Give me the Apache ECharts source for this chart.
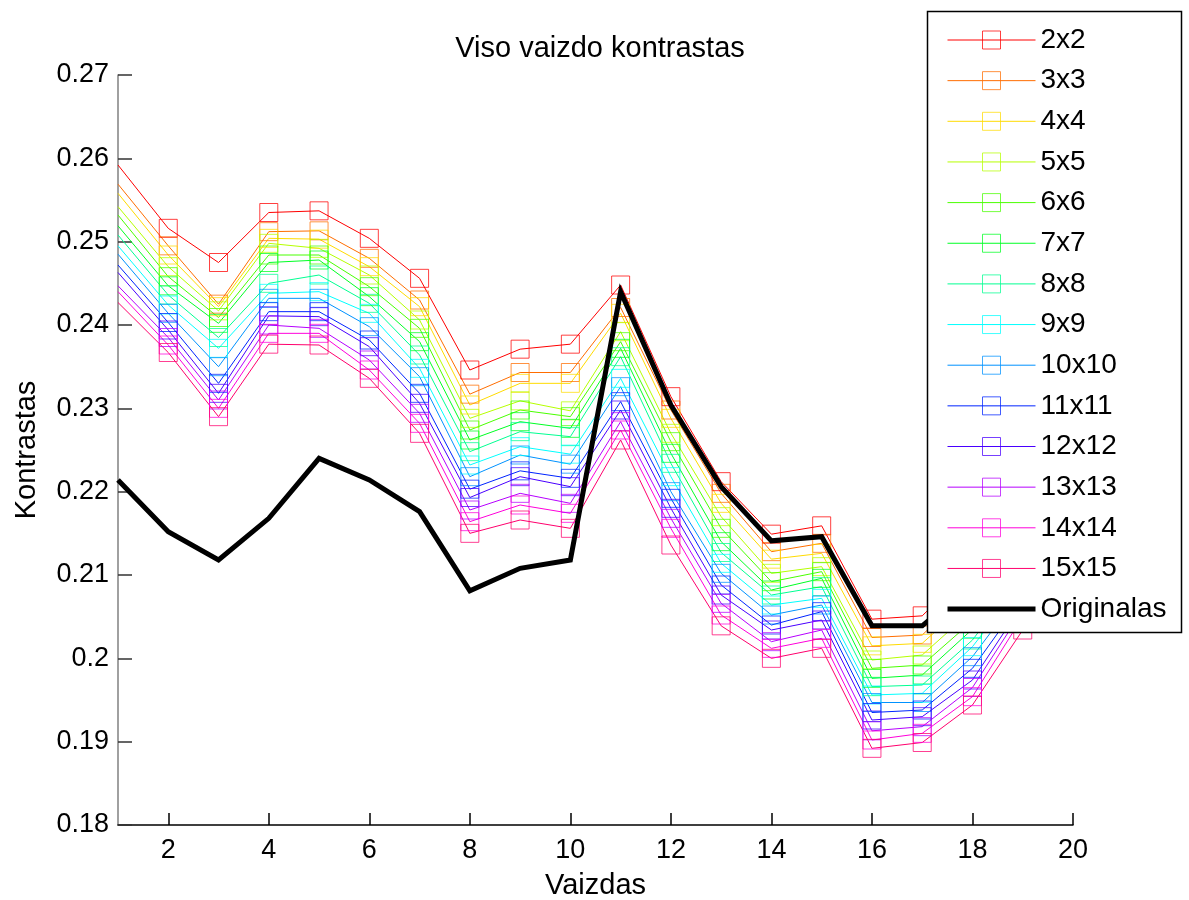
<!DOCTYPE html>
<html>
<head>
<meta charset="utf-8">
<script src="https://cdn.jsdelivr.net/npm/echarts@6/dist/echarts.min.js"></script>
<style>
  html, body { margin: 0; padding: 0; background: #fff; }
  #chart { width: 1189px; height: 900px; }
</style>
</head>
<body>
<div id="chart"></div>
<script>
// Image index along the horizontal axis
const xValues = [1, 2, 3, 4, 5, 6, 7, 8, 9, 10, 11, 12, 13, 14, 15, 16, 17, 18, 19, 20];
const xTickValues = [2, 4, 6, 8, 10, 12, 14, 16, 18, 20];

// Contrast after filtering with each window size
const names = ['2x2', '3x3', '4x4', '5x5', '6x6', '7x7', '8x8', '9x9', '10x10', '11x11', '12x12', '13x13', '14x14', '15x15'];
const colors = ['#FF0000', '#FF6D00', '#FFDB00', '#B6FF00', '#49FF00', '#00FF24', '#00FF92',
                '#00FFFF', '#0092FF', '#0024FF', '#4900FF', '#B600FF', '#FF00DB', '#FF006D'];

const w2  = [0.2592, 0.2516, 0.2475, 0.2535, 0.2537, 0.2504, 0.2456, 0.2346, 0.2371, 0.2377, 0.2448, 0.2314, 0.2212, 0.2149, 0.2159, 0.2047, 0.2051, 0.2110, 0.2190, 0.2230];
const w3  = [0.2569, 0.2495, 0.2425, 0.2512, 0.2513, 0.2480, 0.2430, 0.2317, 0.2343, 0.2343, 0.2421, 0.2298, 0.2198, 0.2128, 0.2138, 0.2025, 0.2028, 0.2085, 0.2165, 0.2205];
const w4  = [0.2558, 0.2484, 0.2422, 0.2504, 0.2503, 0.2470, 0.2422, 0.2304, 0.2330, 0.2330, 0.2414, 0.2288, 0.2186, 0.2119, 0.2126, 0.2015, 0.2018, 0.2072, 0.2150, 0.2190];
const w5  = [0.2542, 0.2470, 0.2417, 0.2498, 0.2492, 0.2460, 0.2406, 0.2288, 0.2309, 0.2297, 0.2392, 0.2270, 0.2170, 0.2102, 0.2110, 0.1998, 0.2004, 0.2058, 0.2136, 0.2175];
const w6  = [0.2532, 0.2458, 0.2409, 0.2484, 0.2484, 0.2446, 0.2396, 0.2274, 0.2298, 0.2290, 0.2380, 0.2260, 0.2156, 0.2092, 0.2104, 0.1988, 0.1992, 0.2045, 0.2124, 0.2162];
const w7  = [0.2519, 0.2447, 0.2402, 0.2475, 0.2478, 0.2434, 0.2380, 0.2262, 0.2284, 0.2276, 0.2372, 0.2246, 0.2140, 0.2082, 0.2096, 0.1976, 0.1980, 0.2035, 0.2112, 0.2150];
const w8  = [0.2508, 0.2436, 0.2385, 0.2450, 0.2460, 0.2426, 0.2364, 0.2248, 0.2272, 0.2266, 0.2362, 0.2234, 0.2127, 0.2076, 0.2086, 0.1966, 0.1968, 0.2022, 0.2102, 0.2138];
const w9  = [0.2495, 0.2424, 0.2372, 0.2438, 0.2440, 0.2414, 0.2348, 0.2232, 0.2254, 0.2245, 0.2336, 0.2218, 0.2114, 0.2064, 0.2072, 0.1956, 0.1958, 0.2014, 0.2092, 0.2128];
const w10 = [0.2485, 0.2414, 0.2350, 0.2432, 0.2432, 0.2398, 0.2338, 0.2218, 0.2244, 0.2233, 0.2326, 0.2200, 0.2102, 0.2052, 0.2064, 0.1947, 0.1947, 0.2002, 0.2082, 0.2118];
const w11 = [0.2472, 0.2403, 0.2330, 0.2416, 0.2416, 0.2382, 0.2318, 0.2203, 0.2225, 0.2216, 0.2308, 0.2192, 0.2088, 0.2040, 0.2056, 0.1935, 0.1938, 0.1988, 0.2072, 0.2108];
const w12 = [0.2463, 0.2394, 0.2318, 0.2411, 0.2410, 0.2374, 0.2306, 0.2193, 0.2218, 0.2206, 0.2298, 0.2180, 0.2076, 0.2034, 0.2046, 0.1926, 0.1930, 0.1974, 0.2065, 0.2100];
const w13 = [0.2447, 0.2385, 0.2310, 0.2400, 0.2396, 0.2358, 0.2294, 0.2178, 0.2198, 0.2186, 0.2284, 0.2168, 0.2066, 0.2020, 0.2034, 0.1913, 0.1918, 0.1965, 0.2058, 0.2094];
const w14 = [0.2440, 0.2376, 0.2300, 0.2390, 0.2390, 0.2346, 0.2282, 0.2164, 0.2184, 0.2174, 0.2274, 0.2156, 0.2052, 0.2012, 0.2024, 0.1902, 0.1910, 0.1954, 0.2050, 0.2088];
const w15 = [0.2427, 0.2367, 0.2290, 0.2377, 0.2376, 0.2336, 0.2270, 0.2150, 0.2166, 0.2156, 0.2262, 0.2136, 0.2039, 0.2000, 0.2012, 0.1892, 0.1899, 0.1944, 0.2034, 0.2080];

// Contrast of the unfiltered images
const originalName = 'Originalas';
const original = [0.2214, 0.2152, 0.2118, 0.2168, 0.2240, 0.2214, 0.2176, 0.2081, 0.2108, 0.2118, 0.2440, 0.2304, 0.2206, 0.2141, 0.2146, 0.2039, 0.2039, 0.2090, 0.2150, 0.2200];

const windowSeries = [w2, w3, w4, w5, w6, w7, w8, w9, w10, w11, w12, w13, w14, w15];

const FONT = '"Liberation Sans", Arial, sans-serif';

function hexToRgba(hex, a) {
  const n = parseInt(hex.slice(1), 16);
  return 'rgba(' + ((n >> 16) & 255) + ',' + ((n >> 8) & 255) + ',' + (n & 255) + ',' + a + ')';
}

const series = windowSeries.map((vals, i) => ({
  name: names[i],
  type: 'line',
  data: xValues.map((x, j) => [x, vals[j]]),
  symbol: 'rect',
  // the first point sits on the axis edge and carries no marker
  symbolSize: (v, p) => (p.dataIndex === 0 ? 0 : 18),
  lineStyle: { color: colors[i], width: 1 },
  itemStyle: { color: 'rgba(0,0,0,0)', borderColor: hexToRgba(colors[i], 0.75), borderWidth: 1 },
  emphasis: { disabled: true },
  animation: false,
  z: 2
}));

series.push({
  name: originalName,
  type: 'line',
  data: xValues.map((x, j) => [x, original[j]]),
  symbol: 'none',
  lineStyle: { color: '#000', width: 5, join: 'miter' },
  itemStyle: { color: '#000' },
  emphasis: { disabled: true },
  animation: false,
  z: 3
});

const legendData = names.map(n => ({ name: n }));
legendData.push({ name: originalName, itemStyle: { opacity: 0 } });

const chart = echarts.init(document.getElementById('chart'), null, { renderer: 'canvas' });
chart.setOption({
  backgroundColor: '#fff',
  animation: false,
  title: {
    text: 'Viso vaizdo kontrastas',
    left: 595,
    textAlign: 'center',
    top: 29,
    textStyle: { fontFamily: FONT, fontSize: 29, fontWeight: 'normal', color: '#000' }
  },
  grid: { left: 118, right: 116, top: 75, bottom: 75, containLabel: false, outerBoundsMode: 'none' },
  xAxis: {
    type: 'value',
    min: 1,
    max: 20,
    name: 'Vaizdas',
    nameLocation: 'middle',
    nameGap: 46,
    nameTextStyle: { fontFamily: FONT, fontSize: 29, color: '#000' },
    axisLine: { show: true, lineStyle: { color: '#000', width: 1.5 } },
    axisTick: { show: true, inside: true, length: 12, customValues: xTickValues, lineStyle: { color: '#000', width: 1.5 } },
    axisLabel: { customValues: xTickValues, margin: 12, fontFamily: FONT, fontSize: 27, color: '#000' },
    splitLine: { show: false }
  },
  yAxis: {
    type: 'value',
    min: 0.18,
    max: 0.27,
    interval: 0.01,
    name: 'Kontrastas',
    nameLocation: 'middle',
    nameGap: 77,
    nameTextStyle: { fontFamily: FONT, fontSize: 29, color: '#000' },
    axisLine: { show: true, lineStyle: { color: '#808080', width: 1.5 } },
    axisTick: { show: true, inside: true, length: 14, lineStyle: { color: '#333', width: 1.5 } },
    axisLabel: {
      margin: 9,
      fontFamily: FONT,
      fontSize: 27,
      color: '#000',
      formatter: v => String(Math.round(v * 100) / 100)
    },
    splitLine: { show: false }
  },
  legend: {
    orient: 'vertical',
    left: 927,
    top: 12,
    padding: [14, 10, 9, 18],
    itemWidth: 88,
    itemHeight: 22.5,
    itemGap: 12.65,
    selectedMode: false,
    z: 20,
    data: legendData,
    itemStyle: { borderWidth: 1 },
    lineStyle: { width: 'inherit' },
    textStyle: { fontFamily: FONT, fontSize: 28, lineHeight: 28, color: '#000' }
  },
  graphic: {
    z: 5,
    elements: [{
      type: 'rect',
      z: 5,
      silent: true,
      shape: { x: 927.5, y: 11.5, width: 254, height: 621 },
      style: { fill: '#fff', stroke: '#000', lineWidth: 1.5 }
    }]
  },
  series: series
});
</script>
</body>
</html>
